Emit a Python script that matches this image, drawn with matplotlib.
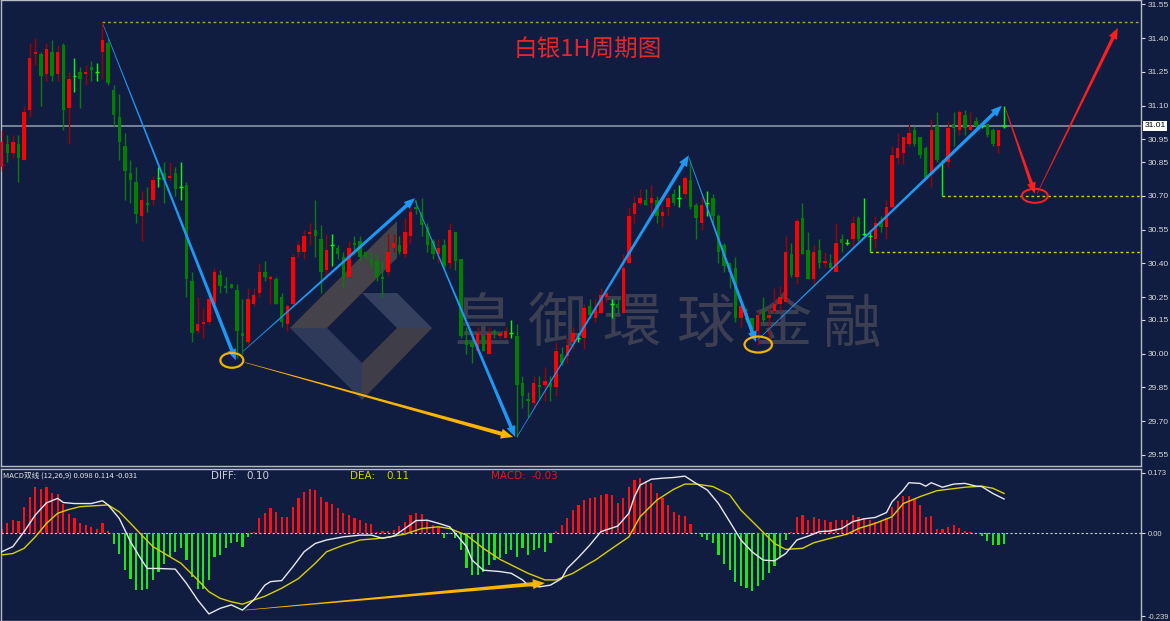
import numpy as np
import matplotlib.pyplot as plt
from matplotlib.patches import Polygon, Ellipse
from matplotlib.transforms import blended_transform_factory

plt.rcParams['font.family'] = ['Noto Sans CJK SC', 'DejaVu Sans']

# silver 1H candles, one entry per bar (index 0 .. 179)
opens = [
    30.83, 30.93, 30.89, 30.93, 30.86, 31.08, 31.33, 31.33, 31.24, 31.34,
    31.24, 31.37, 31.09, 31.23, 31.25, 31.24, 31.27, 31.25, 31.34, 31.38,
    31.17, 31.05, 30.92, 30.80, 30.76, 30.61, 30.67, 30.68, 30.78, 30.80,
    30.78, 30.80, 30.74, 30.75, 30.32, 30.10, 30.13, 30.14, 30.22, 30.35,
    30.30, 30.31, 30.28, 30.09, 30.05, 30.22, 30.27, 30.36, 30.33, 30.33,
    30.25, 30.13, 30.22, 30.45, 30.45, 30.53, 30.55, 30.51, 30.37, 30.48,
    30.47, 30.43, 30.34, 30.49, 30.50, 30.45, 30.42, 30.41, 30.34, 30.36,
    30.47, 30.48, 30.44, 30.52, 30.65, 30.63, 30.56, 30.50, 30.44, 30.48,
    30.40, 30.54, 30.42, 30.06, 30.05, 30.01, 30.08, 30.00, 30.10, 30.08,
    30.07, 30.09, 30.08, 29.87, 29.80, 29.78, 29.86, 29.86, 29.87, 29.85,
    30.00, 29.99, 30.05, 30.07, 30.07, 30.21, 30.16, 30.18, 30.25, 30.22,
    30.22, 30.18, 30.40, 30.62, 30.67, 30.68, 30.67, 30.68, 30.61, 30.65,
    30.71, 30.69, 30.71, 30.77, 30.66, 30.58, 30.67, 30.69, 30.61, 30.48,
    30.40, 30.38, 30.16, 30.18, 30.16, 30.10, 30.19, 30.16, 30.19, 30.22,
    30.23, 30.44, 30.34, 30.60, 30.46, 30.33, 30.46, 30.40, 30.40, 30.36,
    30.51, 30.49, 30.51, 30.60, 30.53, 30.52, 30.51, 30.59, 30.56, 30.65,
    30.87, 30.89, 30.93, 30.99, 30.96, 30.91, 30.80, 31.01, 30.85, 30.85,
    31.02, 30.99, 31.06, 30.99, 31.03, 31.01, 31.02, 30.99, 30.92, 31.01,
]
highs = [
    30.99, 30.97, 30.97, 30.97, 31.10, 31.38, 31.40, 31.34, 31.38, 31.39,
    31.37, 31.38, 31.25, 31.31, 31.27, 31.28, 31.30, 31.29, 31.47, 31.40,
    31.19, 31.15, 30.98, 30.86, 30.83, 30.72, 30.74, 30.79, 30.83, 30.85,
    30.85, 30.83, 30.85, 30.76, 30.36, 30.25, 30.20, 30.27, 30.38, 30.37,
    30.34, 30.31, 30.31, 30.24, 30.29, 30.29, 30.40, 30.41, 30.35, 30.34,
    30.27, 30.22, 30.44, 30.50, 30.55, 30.58, 30.68, 30.57, 30.53, 30.53,
    30.48, 30.45, 30.50, 30.52, 30.52, 30.45, 30.45, 30.44, 30.41, 30.53,
    30.53, 30.52, 30.60, 30.65, 30.68, 30.69, 30.58, 30.51, 30.51, 30.51,
    30.58, 30.54, 30.42, 30.12, 30.09, 30.12, 30.08, 30.12, 30.11, 30.10,
    30.12, 30.15, 30.13, 29.90, 29.83, 29.90, 29.90, 29.94, 29.90, 30.05,
    30.03, 30.07, 30.12, 30.09, 30.22, 30.24, 30.24, 30.29, 30.29, 30.24,
    30.25, 30.44, 30.65, 30.70, 30.73, 30.73, 30.75, 30.70, 30.66, 30.71,
    30.73, 30.75, 30.79, 30.86, 30.67, 30.70, 30.72, 30.71, 30.62, 30.49,
    30.40, 30.43, 30.22, 30.20, 30.16, 30.19, 30.25, 30.20, 30.29, 30.30,
    30.52, 30.49, 30.60, 30.67, 30.54, 30.48, 30.51, 30.45, 30.44, 30.58,
    30.53, 30.51, 30.61, 30.61, 30.69, 30.55, 30.61, 30.61, 30.68, 30.92,
    30.98, 30.96, 31.02, 31.01, 30.96, 30.92, 31.04, 31.07, 30.86, 31.03,
    31.07, 31.08, 31.08, 31.07, 31.05, 31.02, 31.02, 31.00, 30.99, 31.10,
]
lows = [
    30.81, 30.85, 30.87, 30.76, 30.86, 31.05, 31.28, 31.10, 31.21, 31.21,
    31.21, 30.99, 30.93, 31.16, 31.09, 31.19, 31.21, 31.21, 31.22, 31.19,
    31.01, 30.86, 30.68, 30.67, 30.58, 30.50, 30.63, 30.66, 30.74, 30.67,
    30.77, 30.70, 30.68, 30.25, 30.05, 30.09, 30.07, 30.13, 30.22, 30.27,
    30.27, 30.29, 29.98, 30.00, 30.04, 30.21, 30.25, 30.32, 30.22, 30.22,
    30.12, 30.10, 30.21, 30.43, 30.42, 30.48, 30.43, 30.27, 30.34, 30.39,
    30.42, 30.29, 30.34, 30.44, 30.41, 30.42, 30.38, 30.32, 30.25, 30.35,
    30.45, 30.44, 30.43, 30.49, 30.62, 30.52, 30.45, 30.42, 30.40, 30.37,
    30.38, 30.37, 30.07, 30.00, 29.96, 30.01, 30.01, 30.00, 30.07, 30.07,
    30.07, 30.07, 29.63, 29.76, 29.72, 29.76, 29.80, 29.79, 29.79, 29.81,
    29.95, 29.96, 30.02, 30.05, 30.02, 30.16, 30.14, 30.18, 30.23, 30.16,
    30.18, 30.18, 30.40, 30.58, 30.66, 30.66, 30.61, 30.58, 30.56, 30.61,
    30.66, 30.65, 30.69, 30.64, 30.51, 30.55, 30.61, 30.57, 30.40, 30.36,
    30.29, 30.14, 30.12, 30.14, 30.09, 30.04, 30.13, 30.07, 30.18, 30.19,
    30.23, 30.34, 30.31, 30.44, 30.33, 30.30, 30.38, 30.38, 30.38, 30.36,
    30.45, 30.48, 30.47, 30.50, 30.52, 30.45, 30.47, 30.54, 30.51, 30.65,
    30.84, 30.84, 30.92, 30.92, 30.87, 30.78, 30.74, 30.85, 30.70, 30.83,
    30.92, 30.97, 30.97, 30.99, 31.00, 31.00, 30.96, 30.92, 30.89, 31.00,
]
closes = [
    30.94, 30.89, 30.94, 30.87, 31.07, 31.31, 31.34, 31.23, 31.35, 31.23,
    31.34, 31.08, 31.22, 31.23, 31.22, 31.25, 31.26, 31.25, 31.39, 31.20,
    31.06, 30.94, 30.81, 30.77, 30.62, 30.68, 30.66, 30.77, 30.78, 30.77,
    30.79, 30.73, 30.74, 30.33, 30.09, 30.13, 30.14, 30.24, 30.36, 30.30,
    30.29, 30.29, 30.10, 30.08, 30.24, 30.26, 30.36, 30.34, 30.34, 30.22,
    30.14, 30.21, 30.43, 30.48, 30.52, 30.54, 30.52, 30.36, 30.46, 30.48,
    30.44, 30.34, 30.47, 30.48, 30.43, 30.43, 30.40, 30.34, 30.33, 30.45,
    30.49, 30.45, 30.54, 30.63, 30.64, 30.57, 30.48, 30.44, 30.47, 30.39,
    30.55, 30.41, 30.08, 30.04, 30.03, 30.09, 30.01, 30.09, 30.09, 30.09,
    30.10, 30.09, 29.86, 29.81, 29.79, 29.87, 29.85, 29.88, 29.85, 30.01,
    29.96, 30.04, 30.09, 30.07, 30.20, 30.17, 30.20, 30.26, 30.27, 30.22,
    30.20, 30.38, 30.61, 30.67, 30.69, 30.66, 30.69, 30.61, 30.63, 30.69,
    30.67, 30.69, 30.78, 30.65, 30.60, 30.66, 30.67, 30.61, 30.45, 30.39,
    30.36, 30.16, 30.21, 30.15, 30.11, 30.17, 30.15, 30.17, 30.22, 30.25,
    30.45, 30.35, 30.59, 30.44, 30.33, 30.45, 30.40, 30.41, 30.38, 30.49,
    30.49, 30.49, 30.58, 30.51, 30.53, 30.52, 30.58, 30.56, 30.65, 30.88,
    30.91, 30.96, 30.98, 30.93, 30.88, 30.78, 30.99, 30.86, 30.85, 31.00,
    31.00, 31.07, 31.00, 31.01, 31.01, 31.01, 30.97, 30.93, 30.99, 31.01,
]

# MACD histogram, one value per bar
macd_hist = [
    0.013, 0.028, 0.037, 0.035, 0.076, 0.105, 0.132, 0.126, 0.134, 0.114,
    0.112, 0.085, 0.054, 0.042, 0.028, 0.023, 0.018, 0.013, 0.028, 0.006,
    -0.032, -0.060, -0.107, -0.131, -0.163, -0.165, -0.160, -0.134, -0.112, -0.088,
    -0.068, -0.054, -0.044, -0.078, -0.126, -0.160, -0.160, -0.136, -0.068, -0.064,
    -0.044, -0.030, -0.025, -0.040, -0.012, 0.004, 0.042, 0.059, 0.071, 0.061,
    0.047, 0.045, 0.076, 0.100, 0.119, 0.126, 0.124, 0.105, 0.090, 0.085,
    0.071, 0.057, 0.052, 0.042, 0.037, 0.030, 0.026, 0.004, 0.005, 0.007,
    0.010, 0.020, 0.033, 0.052, 0.059, 0.055, 0.039, 0.023, 0.018, -0.015,
    -0.004, -0.015, -0.049, -0.102, -0.121, -0.121, -0.111, -0.092, -0.078, -0.073,
    -0.059, -0.049, -0.068, -0.044, -0.063, -0.049, -0.044, -0.054, -0.028, 0.007,
    0.023, 0.042, 0.066, 0.080, 0.095, 0.100, 0.103, 0.110, 0.113, 0.110,
    0.087, 0.100, 0.134, 0.153, 0.160, 0.150, 0.143, 0.114, 0.100, 0.081,
    0.061, 0.052, 0.049, 0.026, 0.000, -0.011, -0.020, -0.030, -0.063, -0.089,
    -0.107, -0.140, -0.153, -0.159, -0.167, -0.153, -0.135, -0.116, -0.095, -0.068,
    -0.020, 0.003, 0.045, 0.052, 0.039, 0.045, 0.040, 0.037, 0.031, 0.037,
    0.039, 0.039, 0.052, 0.045, 0.042, 0.039, 0.033, 0.036, 0.042, 0.074,
    0.093, 0.107, 0.107, 0.097, 0.081, 0.047, 0.049, 0.013, 0.012, 0.016,
    0.023, 0.015, 0.007, 0.004, 0.000, -0.009, -0.022, -0.035, -0.035, -0.031,
]

# DIFF (white) and DEA (yellow) read at bar positions
diff_idx = [0, 2, 4, 6, 8, 10, 11, 13, 16, 18, 19, 21, 23, 25, 26, 28, 31, 33, 35, 37,
            39, 41, 43, 45, 47, 48, 50, 52, 54, 56, 58, 61, 64, 66, 68, 70, 72, 74, 76, 78,
            80, 81, 83, 84, 86, 89, 91, 93, 94, 96, 98, 100, 101, 103, 105, 107, 110, 112, 113, 114,
            116, 118, 120, 122, 124, 126, 128, 130, 132, 134, 136, 138, 140, 142, 144, 146, 148, 150, 152, 154,
            156, 158, 159, 161, 162, 164, 165, 166, 168, 170, 172, 174, 175, 177, 179]
diff_val = [-0.054, -0.039, 0.004, 0.052, 0.087, 0.100, 0.088, 0.085, 0.085, 0.093,
            0.081, 0.042, -0.025, -0.078, -0.102, -0.102, -0.104, -0.145, -0.193, -0.233,
            -0.217, -0.207, -0.222, -0.193, -0.150, -0.140, -0.137, -0.097, -0.054, -0.030,
            -0.020, -0.011, -0.006, -0.006, -0.015, -0.009, 0.013, 0.036, 0.037, 0.028,
            0.018, -0.001, -0.039, -0.078, -0.107, -0.111, -0.116, -0.135, -0.150, -0.155,
            -0.150, -0.131, -0.102, -0.070, -0.035, 0.004, 0.020, 0.057, 0.105, 0.138,
            0.155, 0.158, 0.160, 0.164, 0.143, 0.124, 0.085, 0.033, -0.020, -0.054,
            -0.078, -0.080, -0.059, -0.020, -0.009, 0.004, 0.006, 0.013, 0.033, 0.041,
            0.045, 0.059, 0.090, 0.124, 0.145, 0.143, 0.135, 0.145, 0.132, 0.141,
            0.143, 0.135, 0.134, 0.114, 0.098]
dea_idx = [0, 2, 4, 6, 8, 10, 12, 14, 17, 19, 21, 23, 25, 27, 30, 32, 35, 37, 39, 41,
           43, 45, 47, 50, 53, 56, 58, 61, 64, 67, 69, 72, 75, 78, 80, 83, 86, 89, 91, 94,
           97, 99, 102, 105, 106, 109, 112, 114, 117, 120, 122, 124, 127, 130, 132, 135, 138, 140, 143, 145,
           148, 151, 153, 156, 159, 161, 164, 167, 169, 172, 175, 177, 179]
dea_val = [-0.063, -0.059, -0.044, -0.011, 0.028, 0.057, 0.068, 0.076, 0.079, 0.081,
           0.061, 0.028, -0.006, -0.039, -0.068, -0.087, -0.135, -0.169, -0.188, -0.198,
           -0.205, -0.193, -0.182, -0.159, -0.131, -0.087, -0.054, -0.035, -0.020, -0.016,
           -0.012, -0.003, 0.013, 0.018, 0.013, -0.006, -0.044, -0.076, -0.092, -0.116,
           -0.135, -0.135, -0.116, -0.087, -0.078, -0.044, -0.011, 0.047, 0.095, 0.126,
           0.141, 0.141, 0.134, 0.110, 0.066, 0.018, -0.030, -0.047, -0.044, -0.028,
           -0.015, -0.003, 0.013, 0.028, 0.047, 0.085, 0.105, 0.122, 0.126, 0.132,
           0.135, 0.129, 0.114]

price_ticks = [31.55, 31.40, 31.25, 31.10, 30.95, 30.85, 30.70, 30.55, 30.40,
               30.25, 30.15, 30.00, 29.85, 29.70, 29.55]
last_price = 31.01

# drawn analysis: (start bar, start price) -> (end bar, end price)
blue_arrows = [((18.1, 31.46), (41.8, 29.97)),
               ((43.1, 30.01), (73.8, 30.69)),
               ((73.8, 30.68), (91.7, 29.63)),
               ((92.0, 29.63), (122.7, 30.88)),
               ((122.7, 30.87), (134.7, 30.05)),
               ((135.0, 30.06), (178.6, 31.10))]
gold_arrow = ((43.5, 29.96), (91.3, 29.63))
red_arrows = [((179.2, 31.09), (184.5, 30.71)),
              ((184.9, 30.71), (199.3, 31.445))]
macd_arrow = ((43.5, -0.222), (97.0, -0.144))
levels = [(18, 31.47, '#a3a33a'), (168, 30.70, '#d0d000'), (155, 30.45, '#d0d000')]

BG = '#111d40'
fig = plt.figure(figsize=(11.7, 6.21), dpi=100, facecolor=BG)
ax = fig.add_axes([1 / 1170, 155 / 621, 1140 / 1170, 466 / 621], facecolor=BG)
mx = fig.add_axes([1 / 1170, 0, 1140 / 1170, 152 / 621], facecolor=BG)

n = len(closes)
x = np.arange(n)
o = np.array(opens); c = np.array(closes); h = np.array(highs); l = np.array(lows)
up = c > o
down = c < o
doji = c == o

for a in (ax, mx):
    a.set_xlim(-0.125, 203.45)
    a.set_xticks([])
    for s in a.spines.values():
        s.set_color('#b8bcc8')
        s.set_linewidth(1)
    a.yaxis.tick_right()
    a.tick_params(axis='y', colors='#d8d8d8', labelsize=6, length=3, width=0.8, pad=1.5)

ax.set_ylim(29.501, 31.569)
ax.set_yticks(price_ticks)
ax.set_yticklabels([f'{v:.2f}' for v in price_ticks], fontfamily='Liberation Sans')

# candles
wick_col = np.where(up, '#a00000', np.where(down, '#0a7a0a', '#00ff00'))
ax.vlines(x, l, h, colors=wick_col, linewidth=1, zorder=3)
body_lo = np.minimum(o, c)
body_h = np.maximum(np.abs(c - o), 0.009)
ax.bar(x[up], body_h[up], bottom=body_lo[up], width=0.6, color='#ff0000', zorder=4)
ax.bar(x[down], body_h[down], bottom=body_lo[down], width=0.6, color='#008000', zorder=4)
ax.hlines(c[doji], x[doji] - 0.35, x[doji] + 0.35, colors='#00ff00', linewidth=1, zorder=4)

# current price line and box
ax.axhline(last_price, color='#8a93a6', linewidth=1.2, zorder=2)
tr = blended_transform_factory(ax.transAxes, ax.transData)
ax.text(1.003, last_price, f'{last_price:.2f}', transform=tr, fontsize=6, color='black',
        va='center', ha='left', fontfamily='Liberation Sans', clip_on=False,
        bbox=dict(facecolor='white', edgecolor='none', pad=1))

# dotted levels
for start, price, col in levels:
    ax.hlines(price, start, 203.45, colors=col, linewidth=1, linestyles=(0, (2, 2)), zorder=2)


def px_ax(px, py):
    return ((px - 1) / 1140, (466 - py) / 466)


# watermark logo and name
logo = [([(290, 328), (397, 221), (397, 258), (327, 328)], '#46424a'),
        ([(362, 293), (397, 293), (432, 328), (397, 328)], '#34405e'),
        ([(290, 328), (327, 328), (362, 363), (362, 400)], '#2f3a5b'),
        ([(362, 363), (397, 328), (432, 328), (362, 400)], '#3f3e48')]
for pts, col in logo:
    ax.add_patch(Polygon([px_ax(*p) for p in pts], closed=True, transform=ax.transAxes,
                         facecolor=col, edgecolor='none', zorder=1))
for ch, cx in zip('皇御環球金融', [483, 556, 632, 706, 782, 852]):
    ax.text(*px_ax(cx, 325), ch, transform=ax.transAxes, fontsize=42, color='#3c3f52',
            ha='center', va='center', fontfamily=['Noto Sans CJK TC'], zorder=1)

ax.text(*px_ax(588, 50), '白银1H周期图', transform=ax.transAxes, fontsize=17,
        color='#e3272b', ha='center', va='center')


def taper_arrow(axis, start, end, color, w0, w1, head=11, head_w=9):
    (x0, y0), (x1, y1) = axis.transData.transform([start, end])
    d = np.array([x1 - x0, y1 - y0])
    u = d / np.hypot(*d)
    nv = np.array([-u[1], u[0]])
    tip = np.array([x1, y1])
    p0 = np.array([x0, y0])
    base = tip - u * head
    pts = [p0 + nv * w0 / 2, base + nv * w1 / 2, base + nv * head_w / 2, tip,
           base - nv * head_w / 2, base - nv * w1 / 2, p0 - nv * w0 / 2]
    axis.add_patch(Polygon(pts, closed=True, transform=None, facecolor=color,
                           edgecolor='none', zorder=6))


for s, e in blue_arrows:
    taper_arrow(ax, s, e, '#1e98f2', 0.6, 3.6)
taper_arrow(ax, gold_arrow[0], gold_arrow[1], '#ffb400', 0.5, 4.0, head=12, head_w=10)
for s, e in red_arrows:
    taper_arrow(ax, s, e, '#ff1e1e', 0.6, 3.4, head=11, head_w=9)

ax.add_patch(Ellipse((41.1, 29.97), 4.1, 0.066, fill=False, edgecolor='#f2b400', linewidth=1.6, zorder=6))
ax.add_patch(Ellipse((135.1, 30.04), 4.9, 0.071, fill=False, edgecolor='#f2b400', linewidth=1.6, zorder=6))
ax.add_patch(Ellipse((184.5, 30.70), 4.6, 0.062, fill=False, edgecolor='#ff2020', linewidth=1.4, zorder=6))

# MACD panel
hist = np.array(macd_hist)
mx.set_ylim(-0.2534, 0.1845)
mx.set_yticks([0.173, 0.0, -0.239])
mx.set_yticklabels(['0.173', '0.00', '-0.239'], fontfamily='Liberation Sans')
for t in mx.get_yticklabels():
    t.set_fontsize(5.5)
mx.bar(x[hist > 0], hist[hist > 0], width=0.42, color='#ff1010', zorder=2)
mx.bar(x[hist < 0], hist[hist < 0], width=0.42, color='#1ee61e', zorder=2)
mx.axhline(0, color='#c8ccd4', linewidth=0.8, linestyle=(0, (2, 2)), zorder=1)
mx.plot(dea_idx, dea_val, color='#d8d000', linewidth=1, zorder=3)
mx.plot(diff_idx, diff_val, color='#e8e8ee', linewidth=1, zorder=4)
taper_arrow(mx, macd_arrow[0], macd_arrow[1], '#ffb400', 0.5, 4.0, head=12, head_w=10)

mx.text((3 - 1) / 1140, 0.955, 'MACD双线 (12,26,9) 0.098 0.114 -0.031', transform=mx.transAxes,
        fontsize=5.5, color='#e8e8e8', ha='left', va='center')
for label, px, col in [('DIFF:', 211, '#d0d0d8'), ('0.10', 246, '#d0d0d8'),
                       ('DEA:', 350, '#d8d000'), ('0.11', 386, '#d8d000'),
                       ('MACD:', 491, '#e01818'), ('-0.03', 532, '#e01818')]:
    mx.text((px - 1) / 1140, 0.955, label, transform=mx.transAxes, fontsize=7.5,
            color=col, ha='left', va='center', fontfamily='DejaVu Sans')

fig.savefig('out.png', dpi=100, facecolor=BG)
